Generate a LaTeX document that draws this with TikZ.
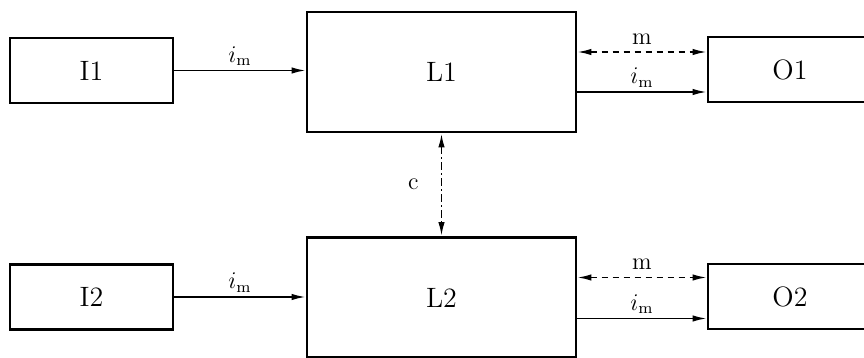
\documentclass[tikz,border=0pt]{standalone}
\usepackage{amsmath}
\usetikzlibrary{arrows.meta,positioning,calc}
\tikzset{
  blk/.style={draw, line width=1.4pt, inner sep=0pt, font=\fontsize{14}{16}\selectfont},
  srcbox/.style={blk, minimum width=81.5pt, minimum height=32.5pt},
  logbox/.style={blk, minimum width=134.5pt, minimum height=60pt},
  outbox/.style={blk, minimum width=82pt, minimum height=32.5pt},
  sig/.style={-{Latex[length=7pt,width=3.2pt]}, line width=0.8pt},
  msg/.style={{Latex[length=7pt,width=3.2pt]}-{Latex[length=7pt,width=3.2pt]},
    line width=0.8pt, dash pattern=on 3pt off 2.5pt},
  ctl/.style={{Latex[length=7pt,width=3.2pt]}-{Latex[length=7pt,width=3.2pt]},
    line width=0.9pt, dash pattern=on 4pt off 1.5pt on 1pt off 1.5pt},
  lab/.style={font=\fontsize{12}{14}\selectfont, inner sep=2pt},
}
\begin{document}
\begin{tikzpicture}[x=0.5pt,y=-0.5pt]
  \useasboundingbox (0,0) rectangle (864,358);
  % blocks
  \node[srcbox] (I1) at (91.5,70.5) {I1};
  \node[logbox] (L1) at (441.5,72) {L1};
  \node[outbox] (O1) at (790,69.5) {O1};
  \node[srcbox] (I2) at (91.5,297) {I2};
  \node[logbox] (L2) at (441.5,297.5) {L2};
  \node[outbox] (O2) at (790,296.5) {O2};
  % connectors, upper row
  \coordinate (L1m) at ([yshift=10pt]L1.east);
  \coordinate (L1i) at ([yshift=-10pt]L1.east);
  \draw[sig] (I1.east) -- (I1.east -| L1.west) node[lab, midway, above] (in1) {$i_{\mathrm{m}}$};
  \draw[msg] (L1m) -- (L1m -| O1.west) node[lab, midway, above, yshift=1.5pt] (m1) {m};
  \draw[sig] (L1i) -- (L1i -| O1.west) node[lab, midway, above] (out1) {$i_{\mathrm{m}}$};
  % connectors, lower row
  \coordinate (L2m) at ([yshift=10pt]L2.east);
  \coordinate (L2i) at ([yshift=-10.5pt]L2.east);
  \draw[sig] (I2.east) -- (I2.east -| L2.west) node[lab, midway, above] (in2) {$i_{\mathrm{m}}$};
  \draw[msg] (L2m) -- (L2m -| O2.west) node[lab, midway, above, yshift=1.5pt] (m2) {m};
  \draw[sig] (L2i) -- (L2i -| O2.west) node[lab, midway, above] (out2) {$i_{\mathrm{m}}$};
  % coupling between the two blocks
  \draw[ctl] (L1.south) -- (L2.north) node[lab, midway, left, xshift=-9pt] (c12) {c};
\end{tikzpicture}
\end{document}
